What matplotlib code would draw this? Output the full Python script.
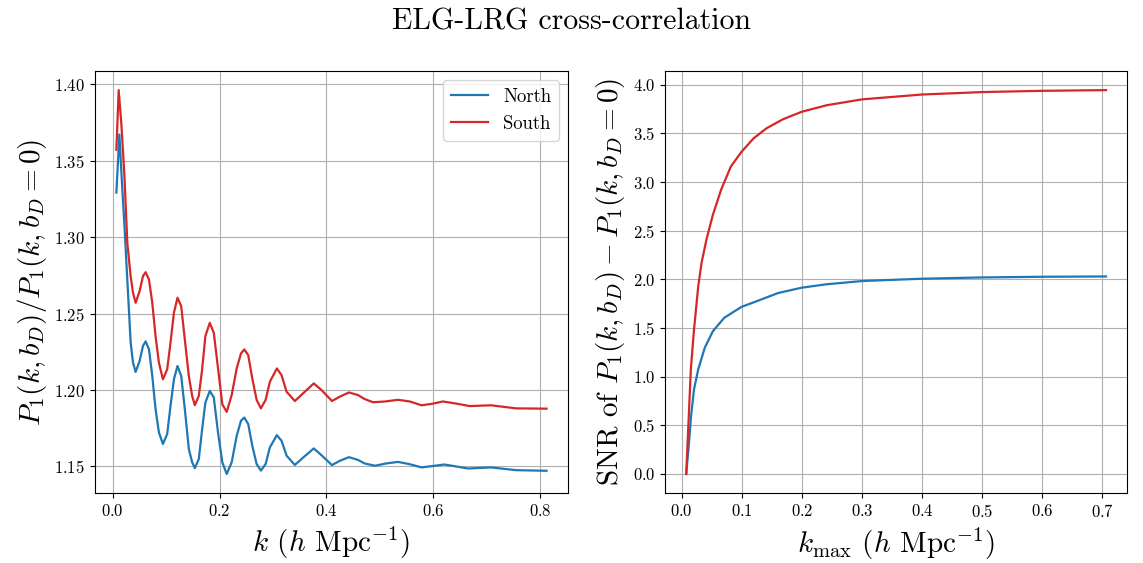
import matplotlib
matplotlib.use("Agg")
import matplotlib.pyplot as plt

plt.rcParams["font.family"] = "serif"
plt.rcParams["font.serif"] = ["cmr10", "DejaVu Serif"]
plt.rcParams["mathtext.fontset"] = "cm"
plt.rcParams["axes.formatter.use_mathtext"] = True

# Left panel: P1 ratio vs k
k_south = [0.0069, 0.0112, 0.0162, 0.0218, 0.0274, 0.0336, 0.038, 0.0429, 0.0504, 0.0567,
           0.0616, 0.0679, 0.0741, 0.0802, 0.0865, 0.094, 0.102, 0.1082, 0.1146, 0.1213,
           0.1282, 0.135, 0.1425, 0.1487, 0.1537, 0.1612, 0.1674, 0.1735, 0.1817, 0.1892,
           0.1972, 0.2052, 0.2134, 0.2227, 0.2321, 0.2401, 0.2463, 0.2537, 0.2612, 0.2694,
           0.2774, 0.2862, 0.2942, 0.3073, 0.316, 0.3254, 0.3409, 0.3563, 0.3763, 0.3907,
           0.4104, 0.4248, 0.4422, 0.459, 0.4715, 0.487, 0.51, 0.534, 0.556, 0.578,
           0.598, 0.618, 0.645, 0.668, 0.708, 0.755, 0.812]
ratio_south = [1.357, 1.396, 1.374, 1.341, 1.296, 1.2744, 1.2636, 1.257, 1.2646, 1.2744,
               1.277, 1.2722, 1.257, 1.2353, 1.2179, 1.207, 1.2135, 1.2309, 1.2505, 1.2603,
               1.2548, 1.233, 1.2092, 1.1962, 1.1901, 1.1962, 1.2135, 1.2353, 1.2439, 1.2374,
               1.214, 1.1906, 1.1857, 1.1967, 1.2141, 1.2239, 1.2265, 1.2228, 1.2076, 1.1935,
               1.188, 1.1935, 1.2054, 1.2141, 1.2097, 1.1989, 1.1928, 1.1978, 1.2043, 1.200,
               1.1928, 1.1956, 1.1984, 1.1967, 1.1941, 1.192, 1.1925, 1.1936, 1.1925, 1.190,
               1.191, 1.1925, 1.191, 1.1895, 1.190, 1.188, 1.1878]

k_north = [0.0069, 0.0125, 0.0175, 0.0218, 0.0243, 0.0293, 0.0336, 0.038, 0.0429, 0.0504,
           0.0567, 0.0616, 0.0679, 0.0741, 0.0802, 0.0865, 0.094, 0.102, 0.1082, 0.1146,
           0.1213, 0.1282, 0.135, 0.1425, 0.1487, 0.1537, 0.1612, 0.1674, 0.1735, 0.1817,
           0.1892, 0.1972, 0.2052, 0.2134, 0.2227, 0.2321, 0.2401, 0.2463, 0.2537, 0.2612,
           0.2694, 0.2774, 0.2862, 0.2942, 0.3073, 0.316, 0.3254, 0.3409, 0.3563, 0.3763,
           0.3907, 0.4104, 0.4248, 0.4422, 0.459, 0.4715, 0.491, 0.512, 0.534, 0.556,
           0.578, 0.621, 0.665, 0.708, 0.755, 0.812]
ratio_north = [1.329, 1.367, 1.3346, 1.3086, 1.292, 1.2594, 1.2311, 1.2179, 1.2118, 1.219,
               1.2288, 1.2318, 1.2266, 1.2092, 1.1875, 1.1723, 1.1647, 1.1712, 1.1896, 1.207,
               1.2157, 1.2092, 1.1875, 1.1614, 1.1528, 1.1489, 1.1549, 1.1745, 1.1918, 1.1994,
               1.1951, 1.172, 1.1527, 1.1451, 1.1527, 1.1701, 1.1799, 1.182, 1.1777, 1.1636,
               1.1516, 1.1473, 1.1516, 1.1625, 1.1705, 1.1668, 1.1571, 1.151, 1.1558, 1.1618,
               1.1574, 1.1509, 1.1537, 1.1561, 1.1543, 1.152, 1.1505, 1.152, 1.153, 1.1515,
               1.1494, 1.1513, 1.1487, 1.1494, 1.1476, 1.1472]

# Right panel: cumulative SNR vs kmax
kmax_south = [0.0076, 0.0114, 0.0153, 0.0206, 0.0276, 0.0331, 0.0412, 0.052, 0.0656, 0.0818,
              0.0997, 0.1196, 0.141, 0.168, 0.2, 0.2415, 0.3, 0.4, 0.5, 0.6, 0.706]
snr_south = [0.0, 0.53, 1.076, 1.486, 1.929, 2.169, 2.408, 2.664, 2.92, 3.159,
             3.312, 3.449, 3.552, 3.644, 3.723, 3.79, 3.85, 3.90, 3.925, 3.938, 3.945]

kmax_north = [0.0076, 0.0118, 0.0157, 0.0206, 0.0276, 0.0385, 0.052, 0.071, 0.0997, 0.125,
              0.1605, 0.2, 0.2415, 0.3, 0.4, 0.5, 0.6, 0.706]
snr_north = [0.0, 0.29, 0.597, 0.871, 1.076, 1.298, 1.468, 1.606, 1.718, 1.776,
             1.86, 1.915, 1.95, 1.983, 2.007, 2.02, 2.027, 2.03]

fig = plt.figure(figsize=(11.43, 5.63), dpi=100)
ax1 = fig.add_axes([0.083, 0.124, 0.414, 0.75])
ax2 = fig.add_axes([0.582, 0.124, 0.404, 0.75])

ax1.plot(k_north, ratio_north, color="tab:blue", lw=1.6, label="North")
ax1.plot(k_south, ratio_south, color="tab:red", lw=1.6, label="South")
ax1.set_xlabel(r"$k$ ($h$ Mpc$^{-1}$)", fontsize=21)
ax1.set_ylabel(r"$P_1(k,b_D)/P_1(k,b_D=0)$", fontsize=21)
ax1.set_xticks([0.0, 0.2, 0.4, 0.6, 0.8])
ax1.grid(True)
ax1.legend(loc="upper right", fontsize=13.5)

ax2.plot(kmax_north, snr_north, color="tab:blue", lw=1.6)
ax2.plot(kmax_south, snr_south, color="tab:red", lw=1.6)
ax2.set_xlabel(r"$k_{\rm max}$ ($h$ Mpc$^{-1}$)", fontsize=21)
ax2.set_ylabel(r"SNR of $P_1(k,b_D)-P_1(k,b_D=0)$", fontsize=21)
ax2.set_yticks([0.0, 0.5, 1.0, 1.5, 2.0, 2.5, 3.0, 3.5, 4.0])
ax2.grid(True)

for ax in (ax1, ax2):
    ax.tick_params(labelsize=12)

fig.suptitle("ELG-LRG cross-correlation", fontsize=21.5, y=0.985)
fig.savefig("out.png", dpi=100)
